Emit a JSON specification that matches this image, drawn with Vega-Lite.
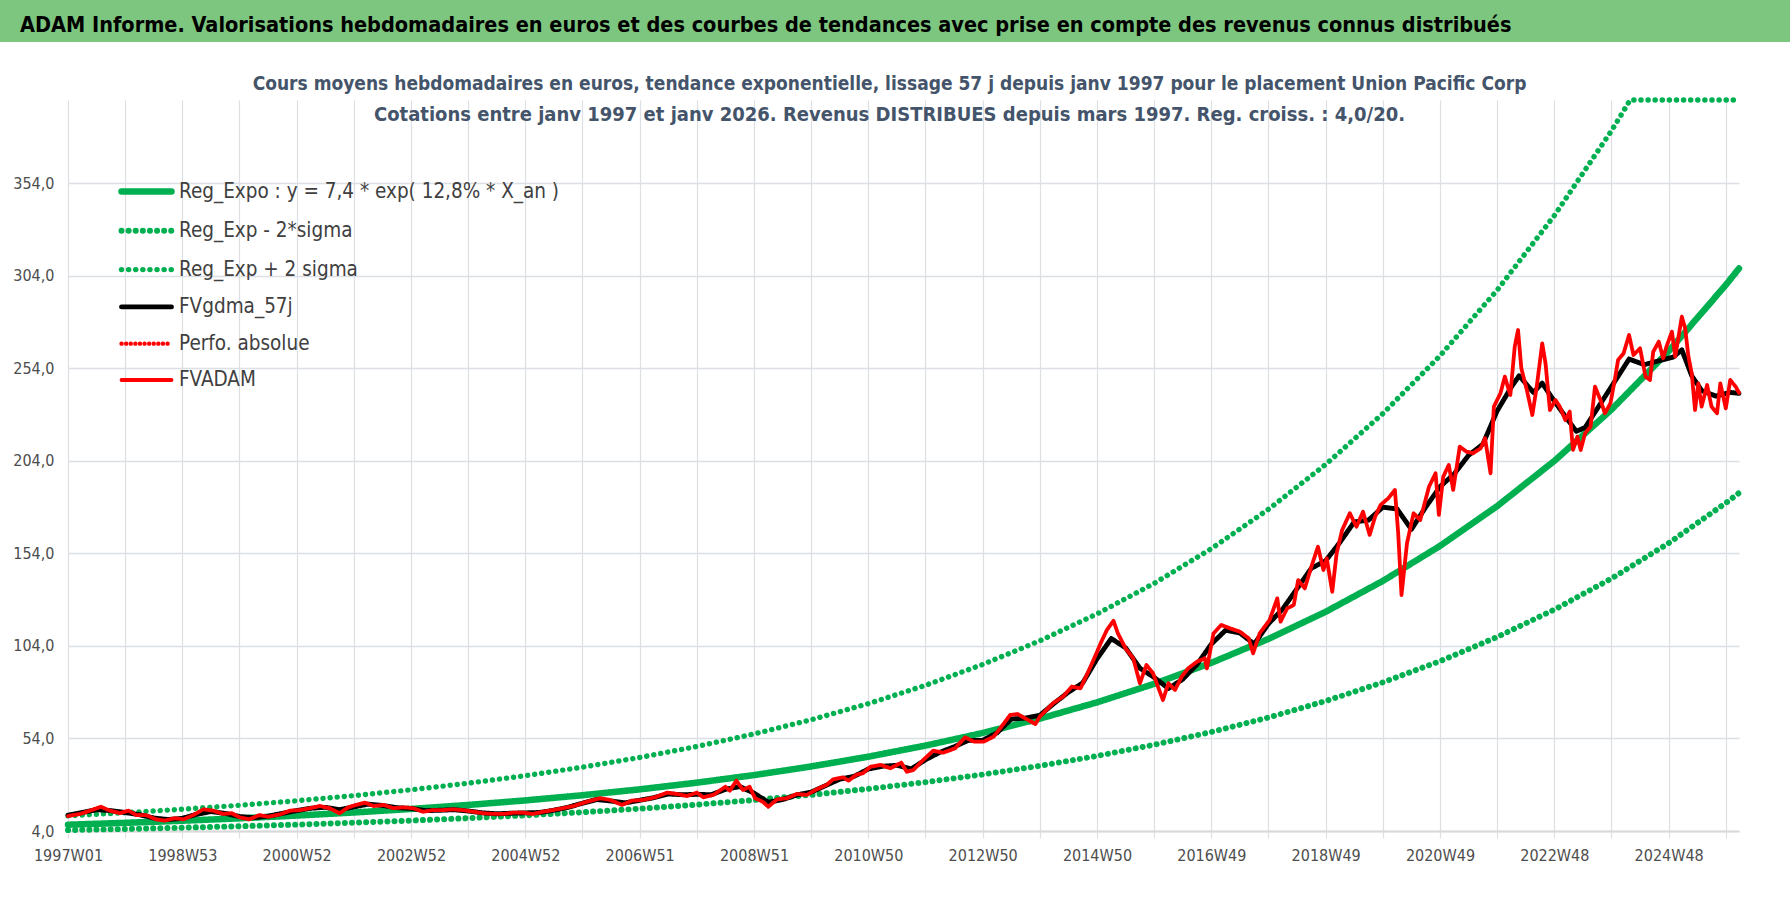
{
  "$schema": "https://vega.github.io/schema/vega-lite/v6.json",
  "background": "white",
  "padding": 0,
  "spacing": 33,
  "vconcat": [
    {
      "width": 1790,
      "height": 42,
      "view": {"fill": "#7DC67F", "stroke": null},
      "title": {
        "text": "ADAM Informe. Valorisations hebdomadaires en euros et des courbes de tendances avec prise en compte des revenus connus distribués",
        "anchor": "start",
        "frame": "group",
        "orient": "top",
        "offset": -36,
        "dx": 20,
        "fontSize": 21.5,
        "fontWeight": "bold",
        "color": "#000000"
      },
      "data": {"values": [{}]},
      "mark": {"type": "rect", "opacity": 0}
    },
    {
      "width": 1739,
      "height": 731,
      "title": {
        "text": "Cours moyens hebdomadaires en euros, tendance exponentielle, lissage 57 j depuis janv 1997  pour le placement Union Pacific Corp",
        "subtitle": "Cotations entre janv 1997 et janv 2026. Revenus DISTRIBUES depuis mars 1997.  Reg. croiss. : 4,0/20.",
        "anchor": "middle",
        "frame": "group",
        "dx": 20,
        "offset": -28,
        "subtitlePadding": 11,
        "fontSize": 19,
        "fontWeight": "bold",
        "color": "#44546A",
        "subtitleFontSize": 20,
        "subtitleFontWeight": "bold",
        "subtitleColor": "#44546A"
      },
      "data": {
        "values": [
          {"s": "reg", "w": 0, "v": 7.4}, {"s": "reg", "w": 52, "v": 8.41}, {"s": "reg", "w": 104, "v": 9.55}, {"s": "reg", "w": 156, "v": 10.85},
          {"s": "reg", "w": 208, "v": 12.33}, {"s": "reg", "w": 260, "v": 14.0}, {"s": "reg", "w": 312, "v": 15.91}, {"s": "reg", "w": 364, "v": 18.07},
          {"s": "reg", "w": 416, "v": 20.53}, {"s": "reg", "w": 468, "v": 23.32}, {"s": "reg", "w": 520, "v": 26.5}, {"s": "reg", "w": 572, "v": 30.1},
          {"s": "reg", "w": 624, "v": 34.2}, {"s": "reg", "w": 676, "v": 38.85}, {"s": "reg", "w": 728, "v": 44.14}, {"s": "reg", "w": 780, "v": 50.14},
          {"s": "reg", "w": 832, "v": 56.96}, {"s": "reg", "w": 884, "v": 64.71}, {"s": "reg", "w": 936, "v": 73.52}, {"s": "reg", "w": 988, "v": 83.52},
          {"s": "reg", "w": 1040, "v": 94.88}, {"s": "reg", "w": 1092, "v": 107.79}, {"s": "reg", "w": 1144, "v": 122.45}, {"s": "reg", "w": 1196, "v": 139.11},
          {"s": "reg", "w": 1248, "v": 158.04}, {"s": "reg", "w": 1300, "v": 179.54}, {"s": "reg", "w": 1352, "v": 203.97}, {"s": "reg", "w": 1404, "v": 231.72},
          {"s": "reg", "w": 1456, "v": 263.24}, {"s": "reg", "w": 1508, "v": 299.06}, {"s": "reg", "w": 1520, "v": 307.98},

          {"s": "lo", "w": 0, "v": 4.49}, {"s": "lo", "w": 52, "v": 5.1}, {"s": "lo", "w": 104, "v": 5.79}, {"s": "lo", "w": 156, "v": 6.58},
          {"s": "lo", "w": 208, "v": 7.47}, {"s": "lo", "w": 260, "v": 8.49}, {"s": "lo", "w": 312, "v": 9.64}, {"s": "lo", "w": 364, "v": 10.95},
          {"s": "lo", "w": 416, "v": 12.44}, {"s": "lo", "w": 468, "v": 14.14}, {"s": "lo", "w": 520, "v": 16.06}, {"s": "lo", "w": 572, "v": 18.24},
          {"s": "lo", "w": 624, "v": 20.73}, {"s": "lo", "w": 676, "v": 23.55}, {"s": "lo", "w": 728, "v": 26.75}, {"s": "lo", "w": 780, "v": 30.39},
          {"s": "lo", "w": 832, "v": 34.52}, {"s": "lo", "w": 884, "v": 39.22}, {"s": "lo", "w": 936, "v": 44.56}, {"s": "lo", "w": 988, "v": 50.62},
          {"s": "lo", "w": 1040, "v": 57.5}, {"s": "lo", "w": 1092, "v": 65.33}, {"s": "lo", "w": 1144, "v": 74.22}, {"s": "lo", "w": 1196, "v": 84.31},
          {"s": "lo", "w": 1248, "v": 95.78}, {"s": "lo", "w": 1300, "v": 108.81}, {"s": "lo", "w": 1352, "v": 123.62}, {"s": "lo", "w": 1404, "v": 140.44},
          {"s": "lo", "w": 1456, "v": 159.54}, {"s": "lo", "w": 1508, "v": 181.25}, {"s": "lo", "w": 1520, "v": 186.65},

          {"s": "hi", "w": 0, "v": 12.21}, {"s": "hi", "w": 52, "v": 13.87}, {"s": "hi", "w": 104, "v": 15.76}, {"s": "hi", "w": 156, "v": 17.9},
          {"s": "hi", "w": 208, "v": 20.34}, {"s": "hi", "w": 260, "v": 23.1}, {"s": "hi", "w": 312, "v": 26.25}, {"s": "hi", "w": 364, "v": 29.82},
          {"s": "hi", "w": 416, "v": 33.88}, {"s": "hi", "w": 468, "v": 38.49}, {"s": "hi", "w": 520, "v": 43.72}, {"s": "hi", "w": 572, "v": 49.67},
          {"s": "hi", "w": 624, "v": 56.43}, {"s": "hi", "w": 676, "v": 64.1}, {"s": "hi", "w": 728, "v": 72.82}, {"s": "hi", "w": 780, "v": 82.73},
          {"s": "hi", "w": 832, "v": 93.99}, {"s": "hi", "w": 884, "v": 106.78}, {"s": "hi", "w": 936, "v": 121.3}, {"s": "hi", "w": 988, "v": 137.81},
          {"s": "hi", "w": 1040, "v": 156.55}, {"s": "hi", "w": 1092, "v": 177.85}, {"s": "hi", "w": 1144, "v": 202.05}, {"s": "hi", "w": 1196, "v": 229.54},
          {"s": "hi", "w": 1248, "v": 260.77}, {"s": "hi", "w": 1300, "v": 296.25}, {"s": "hi", "w": 1352, "v": 336.55}, {"s": "hi", "w": 1404, "v": 382.34},
          {"s": "hi", "w": 1421, "v": 399}, {"s": "hi", "w": 1456, "v": 399}, {"s": "hi", "w": 1508, "v": 399}, {"s": "hi", "w": 1520, "v": 399},

          {"s": "gdma", "w": 0, "v": 12.5}, {"s": "gdma", "w": 13, "v": 14}, {"s": "gdma", "w": 26, "v": 15.5}, {"s": "gdma", "w": 39, "v": 15},
          {"s": "gdma", "w": 52, "v": 14}, {"s": "gdma", "w": 65, "v": 12.8}, {"s": "gdma", "w": 78, "v": 11}, {"s": "gdma", "w": 91, "v": 10.2},
          {"s": "gdma", "w": 104, "v": 10.8}, {"s": "gdma", "w": 117, "v": 13}, {"s": "gdma", "w": 130, "v": 14.5}, {"s": "gdma", "w": 143, "v": 13.5},
          {"s": "gdma", "w": 156, "v": 11.8}, {"s": "gdma", "w": 169, "v": 11.2}, {"s": "gdma", "w": 182, "v": 12}, {"s": "gdma", "w": 195, "v": 13.5},
          {"s": "gdma", "w": 208, "v": 15}, {"s": "gdma", "w": 221, "v": 16.3}, {"s": "gdma", "w": 234, "v": 16.8}, {"s": "gdma", "w": 247, "v": 15.5},
          {"s": "gdma", "w": 260, "v": 17}, {"s": "gdma", "w": 273, "v": 18.5}, {"s": "gdma", "w": 286, "v": 17.8}, {"s": "gdma", "w": 299, "v": 16.6},
          {"s": "gdma", "w": 312, "v": 16.2}, {"s": "gdma", "w": 325, "v": 15}, {"s": "gdma", "w": 338, "v": 15.2}, {"s": "gdma", "w": 351, "v": 15.5},
          {"s": "gdma", "w": 364, "v": 14.8}, {"s": "gdma", "w": 377, "v": 13.8}, {"s": "gdma", "w": 390, "v": 13.3}, {"s": "gdma", "w": 403, "v": 13.6},
          {"s": "gdma", "w": 416, "v": 13.8}, {"s": "gdma", "w": 429, "v": 14}, {"s": "gdma", "w": 442, "v": 15.2}, {"s": "gdma", "w": 455, "v": 16.8},
          {"s": "gdma", "w": 468, "v": 19}, {"s": "gdma", "w": 481, "v": 21}, {"s": "gdma", "w": 494, "v": 20.2}, {"s": "gdma", "w": 507, "v": 19.2},
          {"s": "gdma", "w": 520, "v": 20.6}, {"s": "gdma", "w": 533, "v": 22}, {"s": "gdma", "w": 546, "v": 24}, {"s": "gdma", "w": 559, "v": 23.6},
          {"s": "gdma", "w": 572, "v": 23.8}, {"s": "gdma", "w": 585, "v": 23.6}, {"s": "gdma", "w": 598, "v": 26.5}, {"s": "gdma", "w": 611, "v": 28},
          {"s": "gdma", "w": 624, "v": 24.5}, {"s": "gdma", "w": 637, "v": 19.5}, {"s": "gdma", "w": 650, "v": 21}, {"s": "gdma", "w": 663, "v": 23.5},
          {"s": "gdma", "w": 676, "v": 25}, {"s": "gdma", "w": 689, "v": 28.5}, {"s": "gdma", "w": 702, "v": 32}, {"s": "gdma", "w": 715, "v": 33.5},
          {"s": "gdma", "w": 728, "v": 37.5}, {"s": "gdma", "w": 741, "v": 39}, {"s": "gdma", "w": 754, "v": 39.5}, {"s": "gdma", "w": 767, "v": 37.5},
          {"s": "gdma", "w": 780, "v": 42.5}, {"s": "gdma", "w": 793, "v": 46.5}, {"s": "gdma", "w": 806, "v": 49.5}, {"s": "gdma", "w": 819, "v": 53},
          {"s": "gdma", "w": 832, "v": 53}, {"s": "gdma", "w": 845, "v": 57}, {"s": "gdma", "w": 858, "v": 64.5}, {"s": "gdma", "w": 871, "v": 65},
          {"s": "gdma", "w": 884, "v": 66.5}, {"s": "gdma", "w": 897, "v": 73}, {"s": "gdma", "w": 910, "v": 79}, {"s": "gdma", "w": 923, "v": 84},
          {"s": "gdma", "w": 936, "v": 97}, {"s": "gdma", "w": 949, "v": 108}, {"s": "gdma", "w": 962, "v": 103}, {"s": "gdma", "w": 975, "v": 92},
          {"s": "gdma", "w": 988, "v": 87}, {"s": "gdma", "w": 1001, "v": 81}, {"s": "gdma", "w": 1014, "v": 86}, {"s": "gdma", "w": 1027, "v": 94},
          {"s": "gdma", "w": 1040, "v": 105}, {"s": "gdma", "w": 1053, "v": 112.5}, {"s": "gdma", "w": 1066, "v": 111}, {"s": "gdma", "w": 1079, "v": 105},
          {"s": "gdma", "w": 1092, "v": 116}, {"s": "gdma", "w": 1105, "v": 124}, {"s": "gdma", "w": 1118, "v": 135}, {"s": "gdma", "w": 1131, "v": 146},
          {"s": "gdma", "w": 1144, "v": 150}, {"s": "gdma", "w": 1157, "v": 160}, {"s": "gdma", "w": 1170, "v": 171}, {"s": "gdma", "w": 1183, "v": 172},
          {"s": "gdma", "w": 1196, "v": 179}, {"s": "gdma", "w": 1209, "v": 178}, {"s": "gdma", "w": 1222, "v": 167}, {"s": "gdma", "w": 1235, "v": 179},
          {"s": "gdma", "w": 1248, "v": 190}, {"s": "gdma", "w": 1261, "v": 197}, {"s": "gdma", "w": 1274, "v": 207}, {"s": "gdma", "w": 1287, "v": 213},
          {"s": "gdma", "w": 1300, "v": 231}, {"s": "gdma", "w": 1313, "v": 244}, {"s": "gdma", "w": 1320, "v": 250}, {"s": "gdma", "w": 1333, "v": 241},
          {"s": "gdma", "w": 1341, "v": 246}, {"s": "gdma", "w": 1350, "v": 238}, {"s": "gdma", "w": 1362, "v": 228}, {"s": "gdma", "w": 1372, "v": 220},
          {"s": "gdma", "w": 1380, "v": 222}, {"s": "gdma", "w": 1393, "v": 234}, {"s": "gdma", "w": 1406, "v": 246}, {"s": "gdma", "w": 1420, "v": 259},
          {"s": "gdma", "w": 1434, "v": 256}, {"s": "gdma", "w": 1447, "v": 258}, {"s": "gdma", "w": 1460, "v": 260}, {"s": "gdma", "w": 1468, "v": 264},
          {"s": "gdma", "w": 1477, "v": 250}, {"s": "gdma", "w": 1486, "v": 242}, {"s": "gdma", "w": 1499, "v": 239}, {"s": "gdma", "w": 1512, "v": 241},
          {"s": "gdma", "w": 1520, "v": 240.5},

          {"s": "adam", "w": 0, "v": 12.1}, {"s": "adam", "w": 11, "v": 13.2}, {"s": "adam", "w": 20, "v": 15.0}, {"s": "adam", "w": 30, "v": 17.1},
          {"s": "adam", "w": 38, "v": 15.0}, {"s": "adam", "w": 47, "v": 13.6}, {"s": "adam", "w": 55, "v": 15.0}, {"s": "adam", "w": 62, "v": 12.6},
          {"s": "adam", "w": 71, "v": 12.6}, {"s": "adam", "w": 80, "v": 10.3}, {"s": "adam", "w": 88, "v": 9.6}, {"s": "adam", "w": 97, "v": 10.9},
          {"s": "adam", "w": 105, "v": 10.3}, {"s": "adam", "w": 114, "v": 12.6}, {"s": "adam", "w": 123, "v": 15.7}, {"s": "adam", "w": 132, "v": 15.0},
          {"s": "adam", "w": 141, "v": 13.2}, {"s": "adam", "w": 149, "v": 13.6}, {"s": "adam", "w": 156, "v": 11.4}, {"s": "adam", "w": 165, "v": 10.3},
          {"s": "adam", "w": 174, "v": 12.6}, {"s": "adam", "w": 182, "v": 11.7}, {"s": "adam", "w": 193, "v": 13.0}, {"s": "adam", "w": 202, "v": 15.0},
          {"s": "adam", "w": 211, "v": 15.3}, {"s": "adam", "w": 220, "v": 16.3}, {"s": "adam", "w": 229, "v": 17.5}, {"s": "adam", "w": 238, "v": 16.3},
          {"s": "adam", "w": 247, "v": 13.6}, {"s": "adam", "w": 255, "v": 16.8}, {"s": "adam", "w": 262, "v": 18.1}, {"s": "adam", "w": 270, "v": 19.3},
          {"s": "adam", "w": 278, "v": 17.5}, {"s": "adam", "w": 287, "v": 18.1}, {"s": "adam", "w": 296, "v": 16.3}, {"s": "adam", "w": 305, "v": 16.8},
          {"s": "adam", "w": 314, "v": 16.3}, {"s": "adam", "w": 323, "v": 14.4}, {"s": "adam", "w": 332, "v": 15.3}, {"s": "adam", "w": 341, "v": 15.3},
          {"s": "adam", "w": 350, "v": 15.7}, {"s": "adam", "w": 359, "v": 15.3}, {"s": "adam", "w": 369, "v": 14.4}, {"s": "adam", "w": 378, "v": 13.6},
          {"s": "adam", "w": 387, "v": 13.2}, {"s": "adam", "w": 396, "v": 13.2}, {"s": "adam", "w": 405, "v": 13.9}, {"s": "adam", "w": 414, "v": 13.9},
          {"s": "adam", "w": 423, "v": 13.2}, {"s": "adam", "w": 432, "v": 14.4}, {"s": "adam", "w": 441, "v": 15.3}, {"s": "adam", "w": 450, "v": 16.3},
          {"s": "adam", "w": 460, "v": 17.5}, {"s": "adam", "w": 472, "v": 19.8}, {"s": "adam", "w": 484, "v": 21.7}, {"s": "adam", "w": 493, "v": 20.8},
          {"s": "adam", "w": 504, "v": 18.1}, {"s": "adam", "w": 513, "v": 20.4}, {"s": "adam", "w": 523, "v": 20.8}, {"s": "adam", "w": 534, "v": 22.2},
          {"s": "adam", "w": 545, "v": 24.7}, {"s": "adam", "w": 554, "v": 24.0}, {"s": "adam", "w": 563, "v": 22.9}, {"s": "adam", "w": 572, "v": 24.7},
          {"s": "adam", "w": 578, "v": 22.2}, {"s": "adam", "w": 587, "v": 23.5}, {"s": "adam", "w": 598, "v": 27.9}, {"s": "adam", "w": 602, "v": 25.8},
          {"s": "adam", "w": 608, "v": 31.2}, {"s": "adam", "w": 614, "v": 26.2}, {"s": "adam", "w": 620, "v": 27.9}, {"s": "adam", "w": 625, "v": 21.7},
          {"s": "adam", "w": 632, "v": 19.8}, {"s": "adam", "w": 637, "v": 17.1}, {"s": "adam", "w": 645, "v": 21.1}, {"s": "adam", "w": 654, "v": 21.7},
          {"s": "adam", "w": 663, "v": 24.0}, {"s": "adam", "w": 672, "v": 23.5}, {"s": "adam", "w": 681, "v": 26.5}, {"s": "adam", "w": 690, "v": 28.9},
          {"s": "adam", "w": 696, "v": 31.9}, {"s": "adam", "w": 705, "v": 33.0}, {"s": "adam", "w": 710, "v": 31.2}, {"s": "adam", "w": 717, "v": 34.3},
          {"s": "adam", "w": 723, "v": 35.2}, {"s": "adam", "w": 730, "v": 38.7}, {"s": "adam", "w": 739, "v": 39.7}, {"s": "adam", "w": 748, "v": 37.9},
          {"s": "adam", "w": 758, "v": 40.9}, {"s": "adam", "w": 763, "v": 36.0}, {"s": "adam", "w": 769, "v": 37.0}, {"s": "adam", "w": 778, "v": 42.4},
          {"s": "adam", "w": 787, "v": 47.4}, {"s": "adam", "w": 796, "v": 46.3}, {"s": "adam", "w": 807, "v": 48.7}, {"s": "adam", "w": 816, "v": 54.6},
          {"s": "adam", "w": 824, "v": 52.3}, {"s": "adam", "w": 833, "v": 52.3}, {"s": "adam", "w": 842, "v": 55.0}, {"s": "adam", "w": 848, "v": 59.5},
          {"s": "adam", "w": 857, "v": 66.7}, {"s": "adam", "w": 864, "v": 67.2}, {"s": "adam", "w": 872, "v": 64.4}, {"s": "adam", "w": 880, "v": 61.8},
          {"s": "adam", "w": 884, "v": 65.8}, {"s": "adam", "w": 896, "v": 73.0}, {"s": "adam", "w": 905, "v": 76.6}, {"s": "adam", "w": 913, "v": 82.0},
          {"s": "adam", "w": 921, "v": 81.1}, {"s": "adam", "w": 928, "v": 90.0}, {"s": "adam", "w": 934, "v": 98.0}, {"s": "adam", "w": 940, "v": 106.3},
          {"s": "adam", "w": 945, "v": 112.6}, {"s": "adam", "w": 951, "v": 117.6}, {"s": "adam", "w": 955, "v": 110.8}, {"s": "adam", "w": 962, "v": 102.7},
          {"s": "adam", "w": 969, "v": 97.3}, {"s": "adam", "w": 975, "v": 83.8}, {"s": "adam", "w": 981, "v": 93.7}, {"s": "adam", "w": 987, "v": 89.2},
          {"s": "adam", "w": 992, "v": 81.1}, {"s": "adam", "w": 996, "v": 74.8}, {"s": "adam", "w": 1001, "v": 83.8}, {"s": "adam", "w": 1007, "v": 80.2},
          {"s": "adam", "w": 1013, "v": 87.4}, {"s": "adam", "w": 1019, "v": 91.9}, {"s": "adam", "w": 1027, "v": 95.5}, {"s": "adam", "w": 1034, "v": 97.3},
          {"s": "adam", "w": 1036, "v": 91.9}, {"s": "adam", "w": 1042, "v": 110.8}, {"s": "adam", "w": 1049, "v": 115.3}, {"s": "adam", "w": 1057, "v": 113.5},
          {"s": "adam", "w": 1066, "v": 111.7}, {"s": "adam", "w": 1074, "v": 108.1}, {"s": "adam", "w": 1078, "v": 100.0}, {"s": "adam", "w": 1084, "v": 110.8},
          {"s": "adam", "w": 1093, "v": 118.0}, {"s": "adam", "w": 1100, "v": 129.7}, {"s": "adam", "w": 1103, "v": 117.1}, {"s": "adam", "w": 1109, "v": 124.3},
          {"s": "adam", "w": 1115, "v": 126.1}, {"s": "adam", "w": 1119, "v": 139.6}, {"s": "adam", "w": 1125, "v": 135.1}, {"s": "adam", "w": 1131, "v": 146.8},
          {"s": "adam", "w": 1137, "v": 157.6}, {"s": "adam", "w": 1142, "v": 145.0}, {"s": "adam", "w": 1145, "v": 151.3}, {"s": "adam", "w": 1150, "v": 133.3},
          {"s": "adam", "w": 1154, "v": 154.1}, {"s": "adam", "w": 1159, "v": 166.6}, {"s": "adam", "w": 1166, "v": 175.7}, {"s": "adam", "w": 1172, "v": 168.4},
          {"s": "adam", "w": 1178, "v": 176.5}, {"s": "adam", "w": 1184, "v": 164.0}, {"s": "adam", "w": 1189, "v": 173.8}, {"s": "adam", "w": 1194, "v": 180.2},
          {"s": "adam", "w": 1201, "v": 183.8}, {"s": "adam", "w": 1207, "v": 188.3}, {"s": "adam", "w": 1210, "v": 164.9}, {"s": "adam", "w": 1213, "v": 131.5},
          {"s": "adam", "w": 1218, "v": 159.5}, {"s": "adam", "w": 1224, "v": 175.7}, {"s": "adam", "w": 1230, "v": 172.0}, {"s": "adam", "w": 1238, "v": 190.0},
          {"s": "adam", "w": 1244, "v": 197.3}, {"s": "adam", "w": 1247, "v": 174.8}, {"s": "adam", "w": 1251, "v": 195.5}, {"s": "adam", "w": 1256, "v": 201.8},
          {"s": "adam", "w": 1260, "v": 188.3}, {"s": "adam", "w": 1266, "v": 211.7}, {"s": "adam", "w": 1272, "v": 209.0}, {"s": "adam", "w": 1278, "v": 208.1},
          {"s": "adam", "w": 1285, "v": 210.8}, {"s": "adam", "w": 1289, "v": 216.2}, {"s": "adam", "w": 1294, "v": 197.3}, {"s": "adam", "w": 1297, "v": 233.3},
          {"s": "adam", "w": 1303, "v": 240.5}, {"s": "adam", "w": 1307, "v": 249.5}, {"s": "adam", "w": 1312, "v": 239.6}, {"s": "adam", "w": 1316, "v": 265.7},
          {"s": "adam", "w": 1319, "v": 274.7}, {"s": "adam", "w": 1322, "v": 254.0}, {"s": "adam", "w": 1327, "v": 242.3}, {"s": "adam", "w": 1332, "v": 228.8},
          {"s": "adam", "w": 1336, "v": 244.1}, {"s": "adam", "w": 1341, "v": 267.5}, {"s": "adam", "w": 1344, "v": 256.7}, {"s": "adam", "w": 1348, "v": 231.5},
          {"s": "adam", "w": 1353, "v": 236.9}, {"s": "adam", "w": 1357, "v": 233.3}, {"s": "adam", "w": 1362, "v": 226.1}, {"s": "adam", "w": 1366, "v": 230.6},
          {"s": "adam", "w": 1369, "v": 209.9}, {"s": "adam", "w": 1373, "v": 217.1}, {"s": "adam", "w": 1376, "v": 209.9}, {"s": "adam", "w": 1380, "v": 218.9},
          {"s": "adam", "w": 1385, "v": 222.5}, {"s": "adam", "w": 1389, "v": 244.1}, {"s": "adam", "w": 1394, "v": 236.9}, {"s": "adam", "w": 1398, "v": 229.7},
          {"s": "adam", "w": 1403, "v": 235.1}, {"s": "adam", "w": 1407, "v": 247.7}, {"s": "adam", "w": 1410, "v": 258.5}, {"s": "adam", "w": 1415, "v": 262.1},
          {"s": "adam", "w": 1420, "v": 272.0}, {"s": "adam", "w": 1424, "v": 261.2}, {"s": "adam", "w": 1430, "v": 264.8}, {"s": "adam", "w": 1435, "v": 249.5},
          {"s": "adam", "w": 1439, "v": 247.7}, {"s": "adam", "w": 1442, "v": 263.0}, {"s": "adam", "w": 1447, "v": 268.4}, {"s": "adam", "w": 1451, "v": 259.4},
          {"s": "adam", "w": 1454, "v": 265.7}, {"s": "adam", "w": 1459, "v": 273.8}, {"s": "adam", "w": 1462, "v": 260.3}, {"s": "adam", "w": 1468, "v": 281.9},
          {"s": "adam", "w": 1471, "v": 275.6}, {"s": "adam", "w": 1474, "v": 260.3}, {"s": "adam", "w": 1477, "v": 251.3}, {"s": "adam", "w": 1480, "v": 231.5},
          {"s": "adam", "w": 1483, "v": 245.9}, {"s": "adam", "w": 1486, "v": 233.3}, {"s": "adam", "w": 1491, "v": 245.0}, {"s": "adam", "w": 1495, "v": 233.3},
          {"s": "adam", "w": 1500, "v": 229.7}, {"s": "adam", "w": 1503, "v": 245.9}, {"s": "adam", "w": 1508, "v": 232.4}, {"s": "adam", "w": 1512, "v": 247.7},
          {"s": "adam", "w": 1517, "v": 244.1}, {"s": "adam", "w": 1520, "v": 240.8}
        ]
      },
      "encoding": {
        "x": {
          "field": "w",
          "type": "quantitative",
          "scale": {"domain": [0, 1520], "nice": false, "zero": false, "range": [68, 1739]},
          "axis": {
            "title": null,
            "values": [0, 52, 104, 156, 208, 260, 312, 364, 416, 468, 520, 572, 624, 676, 728, 780, 832, 884, 936, 988, 1040, 1092, 1144, 1196, 1248, 1300, 1352, 1404, 1456, 1508],
            "labelExpr": "datum.value % 104 == 0 ? ['1997W01','1998W53','2000W52','2002W52','2004W52','2006W51','2008W51','2010W50','2012W50','2014W50','2016W49','2018W49','2020W49','2022W48','2024W48'][datum.value / 104] : ''",
            "grid": true,
            "gridColor": "#DCDFE4",
            "gridWidth": 1.2,
            "domainColor": "#D9D9D9",
            "domainWidth": 2,
            "tickColor": "#DCDFE4",
            "tickSize": 7,
            "tickWidth": 1.2,
            "labelFontSize": 16,
            "labelColor": "#4D4D4D",
            "labelPadding": 9,
            "labelFlush": false,
            "labelOverlap": false
          }
        },
        "y": {
          "field": "v",
          "type": "quantitative",
          "scale": {"domain": [4, 399], "nice": false, "zero": false},
          "axis": {
            "title": null,
            "values": [4, 54, 104, 154, 204, 254, 304, 354],
            "labelExpr": "replace(format(datum.value, '.1f'), '.', ',')",
            "grid": true,
            "gridColor": "#DCDFE4",
            "gridWidth": 1.6,
            "domain": false,
            "ticks": false,
            "labelFontSize": 16,
            "labelColor": "#4D4D4D",
            "labelPadding": 14,
            "offset": -68
          }
        },
        "color": {
          "field": "s",
          "type": "nominal",
          "scale": {
            "domain": ["reg", "lo", "hi", "gdma", "perfo", "adam"],
            "range": ["#00B050", "#00B050", "#00B050", "#000000", "#FF0000", "#FF0000"]
          },
          "legend": {
            "title": null, "orient": "none", "legendX": 130.5, "legendY": 175.5, "padding": 0,
            "symbolType": "M-2,0L2,0", "symbolSize": 625, "labelFontSize": 20.5, "labelColor": "#404040",
            "labelLimit": 800, "labelOffset": 16.5, "rowPadding": 10.8,
            "encode": {"symbols": {"update": {"strokeCap": {"value": "round"}}}},
            "labelExpr": "({'reg':'Reg_Expo : y = 7,4 * exp( 12,8% *  X_an )','lo':'Reg_Exp - 2*sigma','hi':'Reg_Exp + 2 sigma','gdma':'FVgdma_57j','perfo':'Perfo. absolue','adam':'FVADAM'})[datum.value]"
          }
        },
        "strokeDash": {
          "field": "s",
          "type": "nominal",
          "scale": {
            "domain": ["reg", "lo", "hi", "gdma", "perfo", "adam"],
            "range": [[1, 0], [0.1, 7], [0.1, 7], [1, 0], [0.1, 4.5], [1, 0]]
          },
          "legend": {
            "title": null, "orient": "none", "legendX": 130.5, "legendY": 175.5, "padding": 0,
            "symbolType": "M-2,0L2,0", "symbolSize": 625, "labelFontSize": 20.5, "labelColor": "#404040",
            "labelLimit": 800, "labelOffset": 16.5, "rowPadding": 10.8,
            "encode": {"symbols": {"update": {"strokeCap": {"value": "round"}}}},
            "labelExpr": "({'reg':'Reg_Expo : y = 7,4 * exp( 12,8% *  X_an )','lo':'Reg_Exp - 2*sigma','hi':'Reg_Exp + 2 sigma','gdma':'FVgdma_57j','perfo':'Perfo. absolue','adam':'FVADAM'})[datum.value]"
          }
        },
        "strokeWidth": {
          "field": "s",
          "type": "nominal",
          "scale": {
            "domain": ["reg", "lo", "hi", "gdma", "perfo", "adam"],
            "range": [6.5, 3.8, 3.8, 3, 2.2, 6]
          },
          "legend": {
            "title": null, "orient": "none", "legendX": 130.5, "legendY": 175.5, "padding": 0,
            "symbolType": "M-2,0L2,0", "symbolSize": 625, "labelFontSize": 20.5, "labelColor": "#404040",
            "labelLimit": 800, "labelOffset": 16.5, "rowPadding": 10.8,
            "encode": {"symbols": {"update": {"strokeCap": {"value": "round"}}}},
            "labelExpr": "({'reg':'Reg_Expo : y = 7,4 * exp( 12,8% *  X_an )','lo':'Reg_Exp - 2*sigma','hi':'Reg_Exp + 2 sigma','gdma':'FVgdma_57j','perfo':'Perfo. absolue','adam':'FVADAM'})[datum.value]"
          }
        }
      },
      "layer": [
        {
          "transform": [{"filter": {"field": "s", "oneOf": ["reg", "lo", "hi"]}}],
          "mark": {"type": "line", "strokeCap": "round", "strokeJoin": "round"}
        },
        {
          "transform": [{"filter": {"field": "s", "equal": "gdma"}}],
          "mark": {"type": "line", "strokeCap": "round", "strokeJoin": "round"}
        },
        {
          "transform": [{"filter": {"field": "s", "equal": "adam"}}],
          "mark": {"type": "line", "strokeCap": "round", "strokeJoin": "round"}
        }
      ]
    }
  ],
  "config": {
    "font": "'Liberation Sans Narrow', 'DejaVu Sans Condensed', 'Liberation Sans', sans-serif",
    "view": {"stroke": null}
  }
}
